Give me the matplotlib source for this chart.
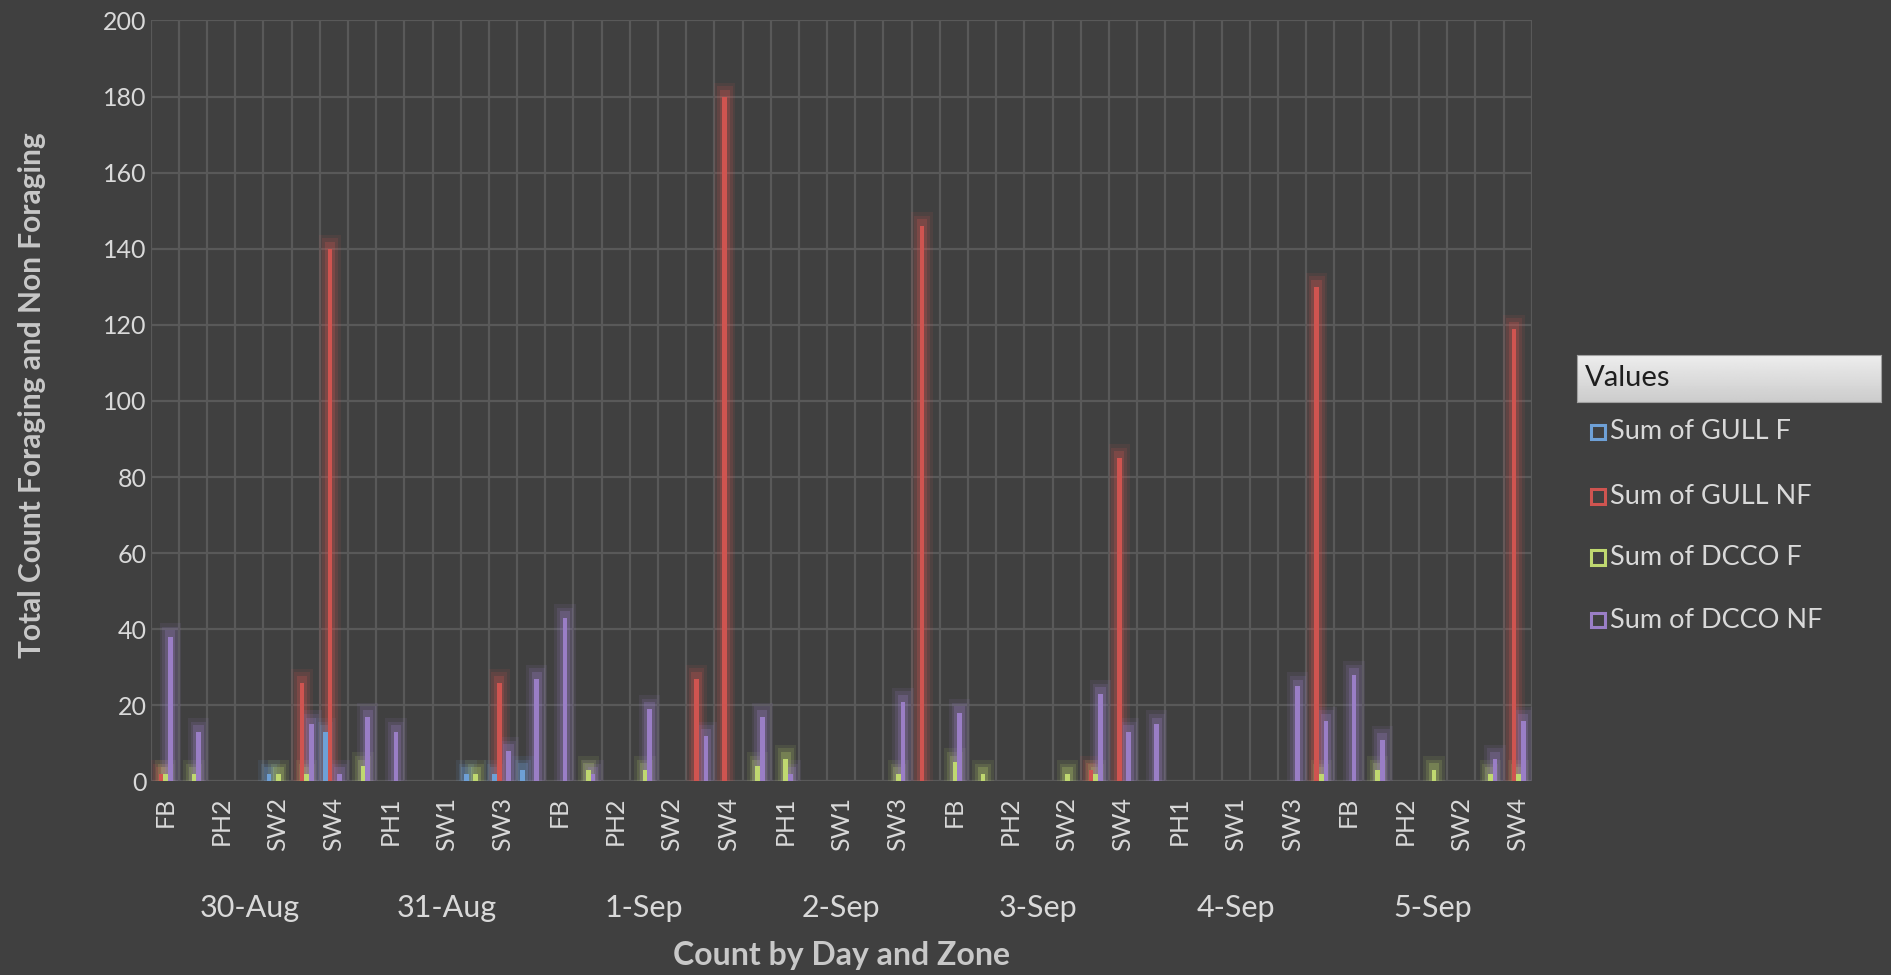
import matplotlib.pyplot as plt
import matplotlib.transforms as mtransforms
from matplotlib.patches import Rectangle
import numpy as np

days = ['30-Aug', '31-Aug', '1-Sep', '2-Sep', '3-Sep', '4-Sep', '5-Sep']
zones = ['FB', 'PH1', 'PH2', 'SW1', 'SW2', 'SW3', 'SW4']
series_names = ['Sum of GULL F', 'Sum of GULL NF', 'Sum of DCCO F', 'Sum of DCCO NF']

# one row per day, one value per zone (FB, PH1, PH2, SW1, SW2, SW3, SW4)
gull_f = [
    [0, 0, 0, 0, 2, 0, 13],
    [0, 0, 0, 0, 2, 2, 3],
    [0, 0, 0, 0, 0, 0, 0],
    [0, 0, 0, 0, 0, 0, 0],
    [0, 0, 0, 0, 0, 0, 0],
    [0, 0, 0, 0, 0, 0, 0],
    [0, 0, 0, 0, 0, 0, 0],
]
gull_nf = [
    [2, 0, 0, 0, 0, 26, 140],
    [0, 0, 0, 0, 0, 26, 0],
    [0, 0, 0, 0, 0, 27, 180],
    [0, 0, 0, 0, 0, 0, 146],
    [0, 0, 0, 0, 0, 3, 85],
    [0, 0, 0, 0, 0, 0, 130],
    [0, 0, 0, 0, 0, 0, 119],
]
dcco_f = [
    [2, 2, 0, 0, 2, 2, 0],
    [4, 0, 0, 0, 2, 0, 0],
    [0, 3, 0, 3, 0, 0, 0],
    [4, 6, 0, 0, 0, 2, 0],
    [5, 2, 0, 0, 2, 2, 0],
    [0, 0, 0, 0, 0, 0, 2],
    [0, 3, 0, 3, 0, 2, 2],
]
dcco_nf = [
    [38, 13, 0, 0, 0, 15, 2],
    [17, 13, 0, 0, 0, 8, 27],
    [43, 2, 0, 19, 0, 12, 0],
    [17, 2, 0, 0, 0, 21, 0],
    [18, 0, 0, 0, 0, 23, 13],
    [15, 0, 0, 0, 0, 25, 16],
    [28, 11, 0, 0, 0, 6, 16],
]

colors = ['#6ea0d6', '#cf5450', '#bfd870', '#9a7ec6']
bg = '#404040'
grid_c = '#595959'
text_c = '#d9d9d9'
title_c = '#c8c8c8'

plt.rcParams['font.family'] = ['Lato', 'DejaVu Sans']

fig = plt.figure(figsize=(18.91, 9.75), dpi=100, facecolor=bg)
ax = fig.add_axes([0.0797, 0.1985, 0.7303, 0.7805], facecolor=bg)

n_cat = len(days) * len(zones)
x = np.arange(n_cat)
bw = 0.165
shift = -0.05

all_series = [gull_f, gull_nf, dcco_f, dcco_nf]
for k, data in enumerate(all_series):
    vals = np.array(data).flatten()
    pos = x + shift + (k - 1.5) * bw
    mask = vals > 0
    # soft glow behind the bars
    for gw, ga in [(4.6, 0.10), (3.4, 0.15), (2.2, 0.25)]:
        ax.bar(pos[mask], vals[mask] + 0.8 * gw, width=bw * gw,
               color=colors[k], alpha=ga, linewidth=0, zorder=2)
    ax.bar(pos[mask], vals[mask], width=bw, color=colors[k],
           linewidth=0, zorder=3)

ax.set_xlim(-0.5, n_cat - 0.5)
ax.set_ylim(0, 200)
ax.set_yticks(np.arange(0, 201, 20))
ax.set_xticks(x[::2])
ax.set_xticklabels([zones[i % 7] for i in x[::2]], rotation=90)
ax.set_xticks(np.arange(-0.5, n_cat, 1), minor=True)
ax.grid(True, axis='y', which='major', color=grid_c, linewidth=1.6, zorder=0)
ax.grid(True, axis='x', which='minor', color=grid_c, linewidth=1.6, zorder=0)
ax.set_axisbelow(True)
ax.tick_params(axis='both', which='both', length=0, colors=text_c)
ax.tick_params(axis='x', pad=11, labelsize=18)
ax.tick_params(axis='y', pad=3, labelsize=18)
for s in ax.spines.values():
    s.set_visible(False)

trans = mtransforms.blended_transform_factory(ax.transData, ax.transAxes)
for d, day in enumerate(days):
    ax.text(d * 7 + 3, -0.166, day, transform=trans, ha='center', va='center',
            color=text_c, fontsize=22)

fig.text(0.0169, 0.595, 'Total Count Foraging and Non Foraging', rotation=90,
         ha='center', va='center', color=title_c, fontsize=21.5, fontweight='bold')
fig.text(0.4449, 0.0195, 'Count by Day and Zone', ha='center', va='center',
         color=title_c, fontsize=23, fontweight='bold')

# legend box drawn by hand, in the Excel pivot style
hax = fig.add_axes([0.834, 0.5877, 0.1608, 0.0482])
grad = np.linspace(0.93, 0.80, 50).reshape(-1, 1)
hax.imshow(grad, aspect='auto', cmap='gray', vmin=0, vmax=1, extent=[0, 1, 0, 1])
hax.set_xticks([])
hax.set_yticks([])
for s in hax.spines.values():
    s.set_color('#a0a0a0')
hax.text(0.025, 0.5, 'Values', ha='left', va='center', color='#1e1e1e', fontsize=21)

item_y = [0.557, 0.491, 0.428, 0.364]
for k, name in enumerate(series_names):
    fig.patches.append(Rectangle((0.8415, item_y[k] - 0.0075), 0.0075, 0.015,
                                 transform=fig.transFigure, facecolor='none',
                                 edgecolor=colors[k], linewidth=2.2))
    fig.text(0.8515, item_y[k], name, ha='left', va='center', color=text_c, fontsize=19.5)

fig.savefig('out.png', dpi=100, facecolor=bg)
